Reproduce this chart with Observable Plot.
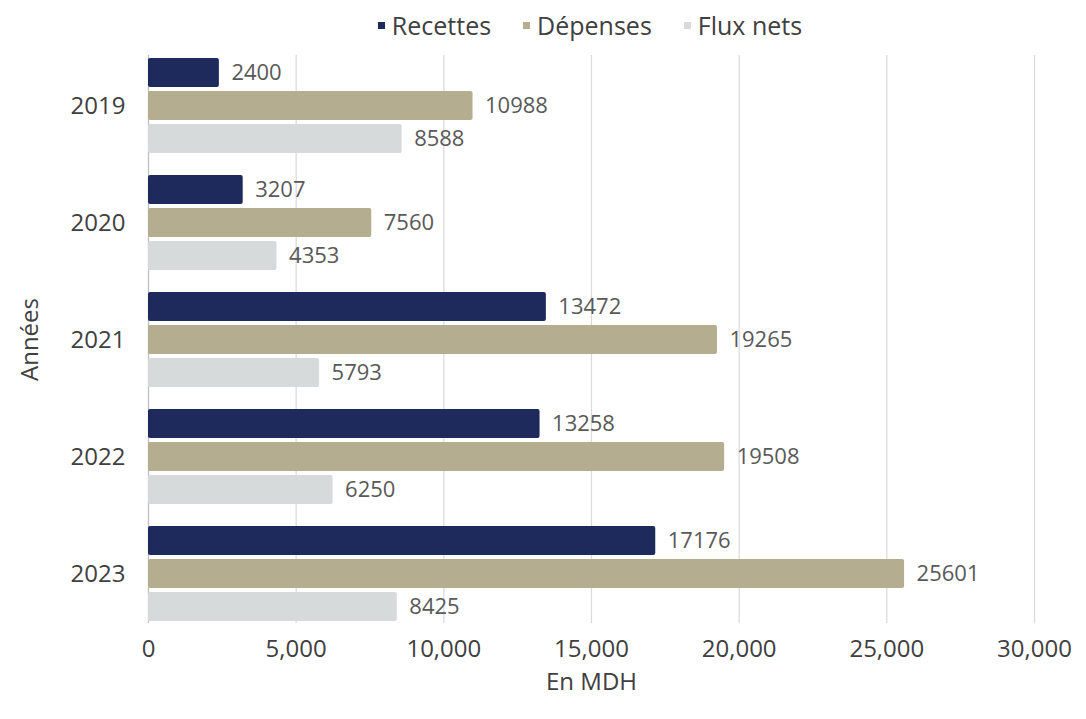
<!DOCTYPE html>
<html>
<head>
<meta charset="utf-8">
<script src="https://cdn.jsdelivr.net/npm/d3@7"></script>
<script src="https://cdn.jsdelivr.net/npm/@observablehq/plot@0.6"></script>
<style>
  html, body { margin: 0; padding: 0; background: #fff; }
  body { width: 1086px; height: 719px; overflow: hidden; font-family: "Open Sans", sans-serif; }
  #legend { height: 50px; display: flex; justify-content: center; align-items: center; padding-left: 94px; box-sizing: border-box; gap: 32px; font-size: 25px; color: #404040; }
  #legend .item { display: flex; align-items: center; gap: 7px; }
  #legend .sw { width: 7px; height: 7px; display: inline-block; }
  svg { display: block; overflow: visible; }
</style>
</head>
<body>
<div id="legend"></div>
<div id="chart"></div>
<script>
const years = ["2019", "2020", "2021", "2022", "2023"];
const recettes = [2400, 3207, 13472, 13258, 17176];
const depenses = [10988, 7560, 19265, 19508, 25601];
const fluxNets = [8588, 4353, 5793, 6250, 8425];
const seriesNames = ["Recettes", "Dépenses", "Flux nets"];
const seriesColors = ["#1f2a5c", "#b5ad8f", "#d7dadb"];
const xTicks = [0, 5000, 10000, 15000, 20000, 25000, 30000];

const seriesValues = [recettes, depenses, fluxNets];
const tables = seriesValues.map((vals, si) => years.map((y, i) => ({year: y, value: vals[i], series: seriesNames[si]})));

// Legend
const legend = document.getElementById("legend");
seriesNames.forEach((name, i) => {
  const it = document.createElement("div");
  it.className = "item";
  it.innerHTML = `<span class="sw" style="background:${seriesColors[i]}"></span><span>${name}</span>`;
  legend.appendChild(it);
});

const bw = 95, bh = 29, step = 33;
const barInsets = [
  {insetTop: 0, insetBottom: bw - bh},
  {insetTop: step, insetBottom: bw - bh - step},
  {insetTop: 2 * step, insetBottom: 0}
];
const labelDy = [-step, 0, step];

const marks = [
  Plot.gridX(xTicks, {stroke: "#d9d9d9", strokeOpacity: 1, strokeWidth: 1.2}),
  Plot.ruleX([0], {stroke: "#bfbfbf", strokeWidth: 1.2})
];
tables.forEach((t, i) => {
  marks.push(Plot.barX(t, {x: "value", y: "year", fill: seriesColors[i], rx: 2, ...barInsets[i]}));
  marks.push(Plot.text(t, {x: "value", y: "year", text: d => String(d.value), dy: labelDy[i], dx: 12, textAnchor: "start", fill: "#595959", fontSize: 22, fontFamily: "Open Sans"}));
});
marks.push(Plot.axisX({ticks: xTicks, tickFormat: d3.format(","), tickSize: 0, tickPadding: 16, fontSize: 24, fill: "#404040", fontFamily: "Open Sans", label: "En MDH", labelAnchor: "center", labelOffset: 66, labelArrow: "none"}));
marks.push(Plot.axisY({tickSize: 0, tickPadding: 23, fontSize: 24, fill: "#404040", fontFamily: "Open Sans", label: "Années", labelAnchor: "center", labelOffset: 128, labelArrow: "none"}));

const chart = Plot.plot({
  width: 1086,
  height: 669,
  marginTop: 5,
  marginBottom: 96,
  marginLeft: 148,
  marginRight: 52,
  style: {fontFamily: "Open Sans", fontSize: "22px", color: "#404040", background: "#fff"},
  x: {domain: [0, 30000]},
  y: {domain: years, paddingInner: 0.19, paddingOuter: 0.017},
  marks
});
document.getElementById("chart").appendChild(chart);
</script>
</body>
</html>
